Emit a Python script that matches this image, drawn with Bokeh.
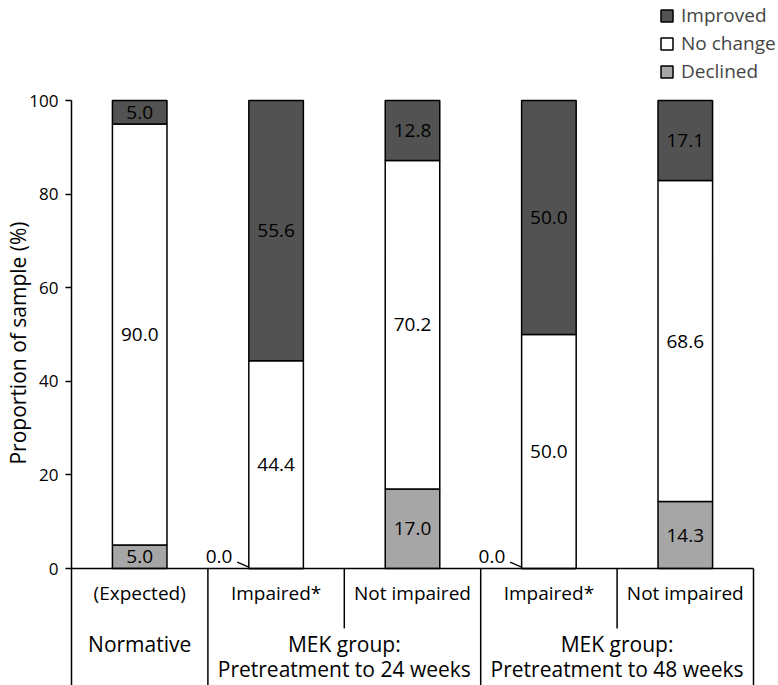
import numpy as np
from bokeh.plotting import figure
from bokeh.models import ColumnDataSource, Range1d, FixedTicker, Legend, LegendItem
from bokeh.core.properties import value
from bokeh.embed import file_html
from bokeh.resources import INLINE

# ---- data ----
subgroups = ["(Expected)", "Impaired*", "Not impaired", "Impaired*", "Not impaired"]
declined = [5.0, 0.0, 17.0, 0.0, 14.3]
no_change = [90.0, 44.4, 70.2, 50.0, 68.6]
improved = [5.0, 55.6, 12.8, 50.0, 17.1]
group_line1 = ["Normative", "MEK group:", "MEK group:"]
group_line2 = ["", "Pretreatment to 24 weeks", "Pretreatment to 48 weeks"]
group_sizes = [1, 2, 2]
series_keys = ["declined", "no_change", "improved"]
series_names = ["Declined", "No change", "Improved"]
y_ticks = [0, 20, 40, 60, 80, 100]

# ---- style ----
FONT = "Open Sans"
colors = ["#a6a6a6", "#ffffff", "#525252"]
BAR_W = 0.4
TABLE_BOTTOM = -25.0
W, H = 778, 685

n = len(subgroups)
xc = np.arange(n) + 0.5

p = figure(width=W, height=H, x_range=Range1d(0, n + 0.1833), y_range=Range1d(TABLE_BOTTOM, 121.37),
           output_backend="svg", toolbar_location=None, x_axis_location=None,
           min_border_left=71, min_border_right=0, min_border_top=0, min_border_bottom=0)
p.grid.visible = False
p.outline_line_color = None
p.background_fill_color = "white"

src = ColumnDataSource(dict(x=xc, declined=declined, no_change=no_change, improved=improved))
rs = p.vbar_stack(series_keys, x="x", width=BAR_W, source=src, fill_color=colors,
                  line_color="black", line_width=1.5)

# value labels in segments
lx, ly, lt = [], [], []
bottom = np.zeros(n)
for key, vals in zip(series_keys, [declined, no_change, improved]):
    vals = np.array(vals)
    for i in range(n):
        if vals[i] > 0:
            lx.append(xc[i]); ly.append(bottom[i] + vals[i] / 2); lt.append(f"{vals[i]:.1f}")
    bottom = bottom + vals
p.text(x=lx, y=ly, text=lt, text_align="center", text_baseline="middle",
       text_font=value(FONT), text_font_size="19px", text_color="black")

# zero labels with leader lines
zi = [i for i in range(n) if declined[i] == 0]
p.text(x=[xc[i] - 0.32 for i in zi], y=[2.5] * len(zi), text=[f"{declined[i]:.1f}" for i in zi],
       text_align="right", text_baseline="middle", text_font=value(FONT),
       text_font_size="19px", text_color="black")
p.segment(x0=[xc[i] - 0.285 for i in zi], y0=[1.35] * len(zi),
          x1=[xc[i] - BAR_W / 2 for i in zi], y1=[0.3] * len(zi), line_color="black", line_width=1.3)

# x baseline
p.segment(x0=[0], y0=[0], x1=[n], y1=[0], line_color="black", line_width=1.5)

# table separators
bounds = np.cumsum(group_sizes)
full_x = [float(b) for b in bounds]
inner_x = [float(i) for i in range(1, n) if i not in bounds]
p.segment(x0=full_x, y0=[0] * len(full_x), x1=full_x, y1=[TABLE_BOTTOM] * len(full_x),
          line_color="black", line_width=1.5)
p.segment(x0=inner_x, y0=[0] * len(inner_x), x1=inner_x, y1=[-12.8] * len(inner_x),
          line_color="black", line_width=1.5)

# table texts
p.text(x=xc, y=[-5.34] * n, text=subgroups, text_align="center", text_baseline="middle",
       text_font=value(FONT), text_font_size="19px", text_color="black")
starts = np.concatenate([[0], bounds[:-1]])
gc = (starts + bounds) / 2
p.text(x=gc, y=[-16.1] * len(gc), text=group_line1, text_align="center", text_baseline="middle",
       text_font=value(FONT), text_font_size="21px", text_color="black")
p.text(x=gc, y=[-21.37] * len(gc), text=group_line2, text_align="center", text_baseline="middle",
       text_font=value(FONT), text_font_size="21px", text_color="black")

# y axis
ax = p.yaxis[0]
ax.ticker = FixedTicker(ticks=y_ticks)
ax.bounds = (TABLE_BOTTOM, 100)
ax.major_tick_out = 6
ax.major_tick_in = 0
ax.minor_tick_line_color = None
ax.major_label_standoff = 7
ax.major_label_text_font = FONT
ax.major_label_text_font_size = "17px"
ax.major_label_text_color = "black"
ax.axis_line_width = 1.5
ax.major_tick_line_width = 1.5
ax.axis_line_color = "black"
ax.major_tick_line_color = "black"
ax.axis_label = "Proportion of sample (%)"
ax.axis_label_text_font = FONT
ax.axis_label_text_font_style = "normal"
ax.axis_label_text_font_size = "21px"
ax.axis_label_text_color = "black"
ax.axis_label_standoff = -6

# legend
items = [LegendItem(label=series_names[k], renderers=[rs[k]]) for k in [2, 1, 0]]
legend = Legend(items=items, location=(588, H - 82 - 2), glyph_width=15, glyph_height=15,
                label_standoff=7, label_text_font=FONT, label_text_font_size="19px",
                label_height=26, spacing=2, padding=0, margin=0,
                border_line_color=None, background_fill_alpha=0)
p.add_layout(legend)

open("out.html", "w").write(file_html(p, INLINE))
